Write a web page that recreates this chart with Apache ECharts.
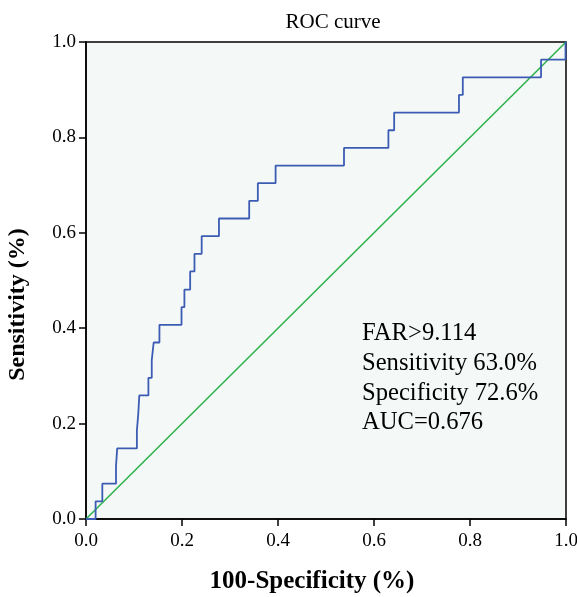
<!DOCTYPE html>
<html>
<head>
<meta charset="utf-8">
<script src="https://cdn.jsdelivr.net/npm/echarts@6/dist/echarts.min.js"></script>
<style>html,body{margin:0;padding:0;background:#fff}#c{width:577px;height:597px}</style>
</head>
<body>
<div id="c"></div>
<script>
// ROC step curve: false-positive rate (100-Specificity) at which sensitivity rises
const fpr = [0, 0.020, 0.034, 0.0625, 0.065, 0.106, 0.109, 0.111, 0.130, 0.137, 0.141, 0.153,
  0.199, 0.205, 0.217, 0.226, 0.241, 0.277, 0.340, 0.358, 0.395, 0.5375, 0.630, 0.642,
  0.777, 0.785, 0.948, 0.999, 1.0];
const sensitivity = [0, 0.037, 0.074, 0.111, 0.148, 0.185, 0.222, 0.259, 0.296, 0.333, 0.370, 0.407,
  0.444, 0.481, 0.519, 0.556, 0.593, 0.630, 0.667, 0.704, 0.741, 0.778, 0.815, 0.852,
  0.889, 0.926, 0.963, 1.0, 1.0];
const reference = [[0, 0], [1, 1]];
const axisTicks = [0, 0.2, 0.4, 0.6, 0.8, 1.0];
const annotationLines = ['FAR>9.114', 'Sensitivity 63.0%', 'Specificity 72.6%', 'AUC=0.676'];
const titleText = 'ROC curve';
const xName = '100-Specificity (%)';
const yName = 'Sensitivity (%)';

const serif = '"Liberation Serif", "DejaVu Serif", serif';
const rocData = fpr.map((x, i) => [x, sensitivity[i]]);

const chart = echarts.init(document.getElementById('c'), null, {renderer: 'canvas'});
chart.setOption({
  backgroundColor: '#ffffff',
  animation: false,
  title: {
    text: titleText, left: 328, top: 7, textAlign: 'center',
    textStyle: {fontFamily: serif, fontSize: 21, fontWeight: 'normal', color: '#000'}
  },
  grid: {
    left: 86, right: 11, top: 42, bottom: 78,
    containLabel: false, outerBoundsMode: 'none',
    show: true, backgroundColor: '#f4f9f7', borderColor: '#000', borderWidth: 1.5
  },
  xAxis: {
    type: 'value', min: 0, max: 1, interval: 0.2,
    name: xName, nameLocation: 'middle', nameGap: 50,
    nameTextStyle: {fontFamily: serif, fontSize: 25, fontWeight: 'bold', color: '#000',
      padding: [0, 28, 0, 0]},
    axisLine: {show: true, lineStyle: {color: '#000', width: 1.5}},
    axisTick: {show: true, length: 7, lineStyle: {color: '#000', width: 1.5}},
    axisLabel: {fontFamily: serif, fontSize: 19, color: '#000', margin: 13,
      formatter: v => v.toFixed(1)},
    splitLine: {show: false}
  },
  yAxis: {
    type: 'value', min: 0, max: 1, interval: 0.2,
    name: yName, nameLocation: 'middle', nameGap: 56, nameRotate: 90,
    nameTextStyle: {fontFamily: serif, fontSize: 24, fontWeight: 'bold', color: '#000',
      padding: [0, 48, 0, 0]},
    axisLine: {show: true, lineStyle: {color: '#000', width: 1.5}},
    axisTick: {show: true, length: 7, lineStyle: {color: '#000', width: 1.5}},
    axisLabel: {fontFamily: serif, fontSize: 19, color: '#000', margin: 10,
      formatter: v => v.toFixed(1)},
    splitLine: {show: false}
  },
  series: [
    {
      type: 'line', data: reference, symbol: 'none', silent: true,
      lineStyle: {color: '#2fb34f', width: 1.6}, z: 2
    },
    {
      type: 'line', data: rocData, step: 'end', symbol: 'none', silent: true,
      lineStyle: {color: '#3c5cb4', width: 1.8}, z: 3
    }
  ],
  graphic: [{
    type: 'text', left: 362, top: 319,
    style: {
      text: annotationLines.join('\n'),
      font: '24.6px ' + serif, fill: '#000', lineHeight: 29.7
    }
  }]
});
</script>
</body>
</html>
